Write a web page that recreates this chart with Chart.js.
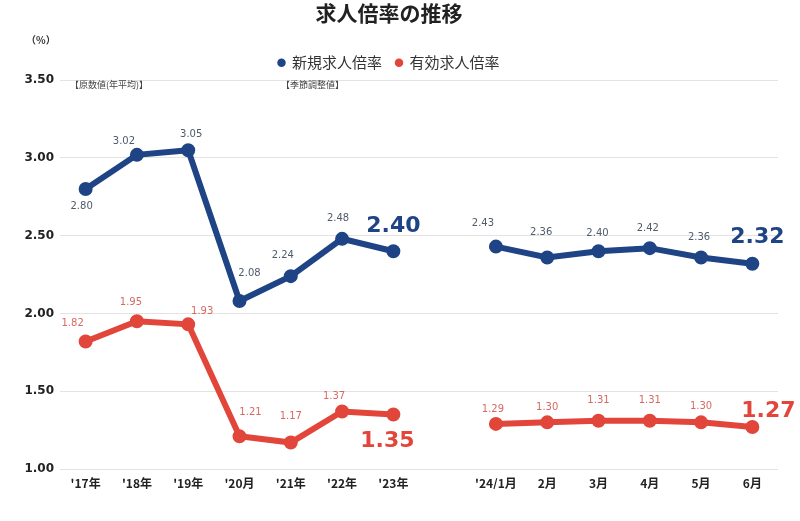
<!DOCTYPE html>
<html>
<head>
<meta charset="utf-8">
<script src="https://cdn.jsdelivr.net/npm/chart.js@4"></script>
<style>
  html, body { margin: 0; padding: 0; background: #fff; }
</style>
</head>
<body>
<canvas id="jobChart" width="800" height="521"></canvas>
<script>
// 求人倍率の推移
const categories = ["'17年", "'18年", "'19年", "'20月", "'21年", "'22年", "'23年", "",
    "'24/1月", "2月", "3月", "4月", "5月", "6月"];
const newRatio = [2.80, 3.02, 3.05, 2.08, 2.24, 2.48, 2.40, null, 2.43, 2.36, 2.40, 2.42, 2.36, 2.32];
const activeRatio = [1.82, 1.95, 1.93, 1.21, 1.17, 1.37, 1.35, null, 1.29, 1.30, 1.31, 1.31, 1.30, 1.27];
const yTicks = [1.00, 1.50, 2.00, 2.50, 3.00, 3.50];

// label offsets from each point (dx, dy)
const blueOffsets = [[-4, 17], [-13, -13], [3, -16], [10, -28], [-8, -21], [-4, -20], [0, -25], null,
    [-13, -23], [-6, -25], [-1, -18], [-2, -20], [-2, -20], [5, -26]];
const redOffsets = [[-13, -18], [-6, -19], [14, -13], [11, -24], [0, -26], [-8, -15], [-6, 27], null,
    [-3, -14], [0, -15], [0, -20], [0, -20], [0, -16], [16, -16]];
const bigIdx = [6, 13];

const BLUE = '#1f4485';
const RED = '#e2463b';
const NUM_FONT = '"DejaVu Sans", Verdana, sans-serif';
const JP_FONT = '"Noto Sans CJK JP", "Noto Sans", sans-serif';

const labelPlugin = {
    id: 'pointLabels',
    afterDatasetsDraw(chart) {
        const ctx = chart.ctx;
        const sets = [
            { meta: chart.getDatasetMeta(0), data: newRatio, offs: blueOffsets, small: '#4f5b6b', big: BLUE },
            { meta: chart.getDatasetMeta(1), data: activeRatio, offs: redOffsets, small: '#d66a62', big: RED }
        ];
        ctx.save();
        ctx.textAlign = 'center';
        ctx.textBaseline = 'middle';
        sets.forEach(s => {
            s.meta.data.forEach((pt, i) => {
                const v = s.data[i];
                if (v === null || !s.offs[i]) return;
                const big = bigIdx.includes(i);
                ctx.font = big ? 'bold 22px ' + NUM_FONT : '10px ' + NUM_FONT;
                ctx.fillStyle = big ? s.big : s.small;
                ctx.fillText(v.toFixed(2), pt.x + s.offs[i][0], pt.y + s.offs[i][1]);
            });
        });
        // unit and notes
        ctx.textAlign = 'left';
        ctx.fillStyle = '#333';
        ctx.font = 'bold 10px ' + JP_FONT;
        ctx.fillText('（%）', 26, 40);
        ctx.font = '9px ' + JP_FONT;
        ctx.fillStyle = '#444';
        ctx.fillText('【原数値(年平均)】', 70, 85);
        ctx.fillText('【季節調整値】', 281, 85);
        ctx.restore();
    }
};

new Chart(document.getElementById('jobChart'), {
    type: 'line',
    data: {
        labels: categories,
        datasets: [{
            label: '新規求人倍率',
            data: newRatio,
            borderColor: BLUE,
            backgroundColor: BLUE,
            borderWidth: 6,
            pointRadius: 4,
            pointHoverRadius: 4,
            tension: 0,
            spanGaps: false
        }, {
            label: '有効求人倍率',
            data: activeRatio,
            borderColor: RED,
            backgroundColor: RED,
            borderWidth: 6,
            pointRadius: 4,
            pointHoverRadius: 4,
            tension: 0,
            spanGaps: false
        }]
    },
    options: {
        responsive: false,
        animation: false,
        devicePixelRatio: 1,
        layout: { padding: { left: 0, right: 22, top: 0, bottom: 32 } },
        plugins: {
            title: {
                display: true,
                text: '求人倍率の推移',
                color: '#222',
                font: { family: JP_FONT, size: 21, weight: 'bold' },
                padding: { top: 0, bottom: 16 }
            },
            legend: {
                position: 'top',
                labels: {
                    usePointStyle: true,
                    pointStyle: 'circle',
                    boxWidth: 6,
                    boxHeight: 6,
                    color: '#333',
                    padding: 14,
                    font: { family: JP_FONT, size: 15 },
                    generateLabels: chart => Chart.defaults.plugins.legend.labels.generateLabels(chart)
                        .map(item => Object.assign(item, { lineWidth: 0 }))
                }
            },
            tooltip: { enabled: false }
        },
        scales: {
            x: {
                offset: true,
                grid: { display: false },
                border: { display: false },
                ticks: {
                    color: '#222',
                    autoSkip: false,
                    maxRotation: 0,
                    padding: 0,
                    font: { family: JP_FONT, size: 12, weight: 'bold', lineHeight: 1 }
                }
            },
            y: {
                min: 1,
                max: 3.5,
                afterBuildTicks: axis => { axis.ticks = yTicks.map(v => ({ value: v })); },
                afterFit: axis => { axis.width = 60; },
                grid: { color: '#e3e3e3', drawTicks: false },
                border: { display: false },
                ticks: {
                    color: '#222',
                    padding: 6,
                    font: { family: NUM_FONT, size: 12, weight: 'bold' },
                    callback: v => Number(v).toFixed(2)
                }
            }
        }
    },
    plugins: [labelPlugin]
});
</script>
</body>
</html>
